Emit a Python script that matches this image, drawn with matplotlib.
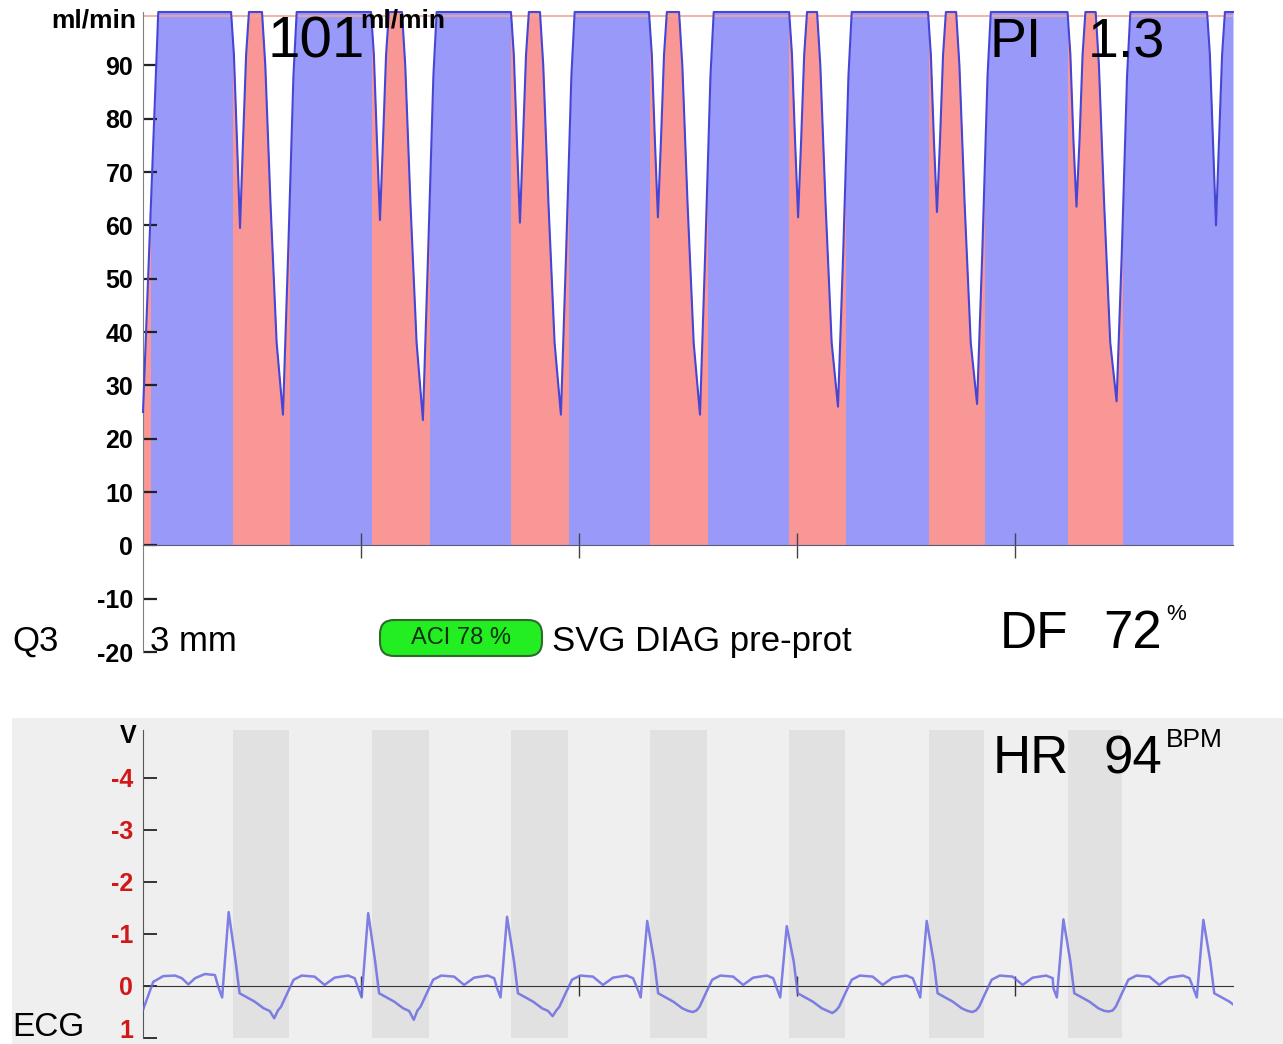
import matplotlib
matplotlib.use("Agg")
import matplotlib.pyplot as plt
from matplotlib.patches import Rectangle, FancyBboxPatch
from matplotlib.transforms import ScaledTranslation

plt.rcParams['font.family'] = ['Liberation Sans', 'DejaVu Sans']
plt.rcParams['axes.unicode_minus'] = False

# ---------------- data ----------------
# graft flow in ml/min, time in s; 100 = clipped at the top of the scale
flow_start_t = [0.000, 0.070]
flow_start_v = [25, 100]
# early systolic dip: times of the minimum and its value
dip1_t = [0.445, 1.087, 1.729, 2.362, 3.005, 3.642, 4.282, 4.922]
dip1_min = [59.5, 61.0, 60.5, 61.5, 61.5, 62.5, 63.5, 60.0]
# late systolic dip (deep one)
dip2_t = [0.642, 1.284, 1.917, 2.555, 3.188, 3.826, 4.466]
dip2_min = [24.5, 23.5, 24.5, 24.5, 26.0, 26.5, 27.0]
# dip outlines, offsets from the minimum (s) and flow there
dip1_off = [-0.041, -0.028, -0.014, 0.0, 0.014, 0.028, 0.041]
dip1_shape = [100, 92, 76, 'min', 76, 92, 100]
dip2_off = [-0.096, -0.081, -0.057, -0.029, 0.0, 0.024, 0.048, 0.063]
dip2_shape = [100, 90, 64, 38, 'min', 55, 88, 100]
flow_end_t = 5.0
mean_line = 99.2

# systolic windows (s)
systole = [(0.000, 0.030), (0.413, 0.670), (1.050, 1.312), (1.688, 1.950),
           (2.326, 2.587), (2.963, 3.220), (3.606, 3.858), (4.243, 4.491)]

# ECG (V, axis drawn inverted)
ecg_lead_t = [0.000, 0.047, 0.093, 0.147, 0.178, 0.208, 0.239, 0.284, 0.330]
ecg_lead_v = [0.46, -0.08, -0.19, -0.20, -0.15, -0.03, -0.15, -0.23, -0.21]
r_times = [0.393, 1.033, 1.670, 2.313, 2.953, 3.595, 4.222, 4.864]
r_amp = [-1.42, -1.40, -1.33, -1.25, -1.15, -1.25, -1.28, -1.27]
t_amp = [0.62, 0.65, 0.58, 0.50, 0.52, 0.50, 0.49, 0.49]
beat_offsets = [-0.046, -0.030, 0.000, 0.032, 0.050, 0.119, 0.161, 0.188, 0.209,
                0.226, 0.240, 0.272, 0.298, 0.335, 0.394, 0.440, 0.486, 0.548, 0.578]
beat_shape = [0.04, 0.22, 'R', -0.47, 0.14, 0.30, 0.43, 0.48, 'T',
              0.47, 0.40, 0.11, -0.12, -0.20, -0.18, -0.02, -0.16, -0.20, -0.15]


def place(points_t, points_v, centre, offsets, shape, low):
    for off, val in zip(offsets, shape):
        points_t.append(centre + off)
        points_v.append(low if val == 'min' else val)


flow_t = list(flow_start_t)
flow_v = list(flow_start_v)
for i, tm in enumerate(dip1_t):
    place(flow_t, flow_v, tm, dip1_off, dip1_shape, dip1_min[i])
    if i < len(dip2_t):
        place(flow_t, flow_v, dip2_t[i], dip2_off, dip2_shape, dip2_min[i])
flow_t.append(flow_end_t)
flow_v.append(100)

ecg_t = list(ecg_lead_t)
ecg_v = list(ecg_lead_v)
for r, ra, ta in zip(r_times, r_amp, t_amp):
    for off, val in zip(beat_offsets, beat_shape):
        if val == 'R':
            val = ra
        elif val == 'T':
            val = ta
        ecg_t.append(r + off)
        ecg_v.append(val)

BLUE = '#9999fa'
RED = '#f99696'
LINE = '#4646d6'

# ---------------- figure ----------------
W, H = 1283, 1044
fig = plt.figure(figsize=(W / 100, H / 100), dpi=100)


def fx(px):
    return px / W


def fy(py):
    return 1 - py / H


def label(px, py, s, size, ha='left', va='baseline', **kw):
    fig.text(fx(px), fy(py), s, fontsize=size, ha=ha, va=va, **kw)


# --- flow panel ---
ax1 = fig.add_axes([fx(143), fy(652), fx(1233) - fx(143), fy(12) - fy(652)])
ax1.set_facecolor('none')
ax1.set_xlim(0, 5)
ax1.set_ylim(-20, 100)

ax1.fill_between(flow_t, 0, flow_v, color=BLUE, lw=0, zorder=1)
for a, b in systole:
    f = ax1.fill_between(flow_t, 0, flow_v, color=RED, lw=0, zorder=1.1)
    f.set_clip_path(Rectangle((a, -20), b - a, 120, transform=ax1.transData))
ax1.axhline(mean_line, color='#eda896', lw=1.2, zorder=2)
ax1.plot(flow_t, flow_v, color=LINE, lw=1.5, zorder=3, clip_on=False,
         solid_joinstyle='round')

for s in ['top', 'right']:
    ax1.spines[s].set_visible(False)
ax1.spines['bottom'].set_position(('data', 0))
ax1.spines['bottom'].set_color('#5a5a7a')
ax1.spines['left'].set_color('#808080')
ax1.set_xticks([1, 2, 3, 4])
ax1.set_xticklabels([])
ax1.tick_params(axis='x', direction='inout', length=18, width=1, color='#444444')
ax1.set_yticks(range(-20, 100, 10))
ax1.tick_params(axis='y', direction='in', length=10, width=1.6, pad=7,
                labelsize=18, color='#222222')
for lab in ax1.get_yticklabels():
    lab.set_fontweight('bold')

# --- ECG panel ---
fig.add_artist(Rectangle((fx(12), 0), 1 - fx(12), fy(718), transform=fig.transFigure,
                         facecolor='#efefef', edgecolor='none', zorder=-1))
ax2 = fig.add_axes([fx(143), fy(1038), fx(1233) - fx(143), fy(730) - fy(1038)])
ax2.set_facecolor('none')
ax2.set_xlim(0, 5)
ax2.set_ylim(1.0, -4.92)
for a, b in systole[1:]:
    ax2.axvspan(a, b, color='#e1e1e1', lw=0, zorder=0)
ax2.plot(ecg_t, ecg_v, color='#6a6ae2', lw=1.8, alpha=0.85, zorder=3,
         solid_joinstyle='round')

for s in ['top', 'right']:
    ax2.spines[s].set_visible(False)
ax2.spines['bottom'].set_position(('data', 0))
ax2.spines['bottom'].set_color('#333333')
ax2.spines['left'].set_color('#555555')
ax2.set_xticks([1, 2, 3, 4])
ax2.set_xticklabels([])
ax2.tick_params(axis='x', direction='inout', length=14, width=1, color='#333333')
ax2.set_yticks([-4, -3, -2, -1, 0, 1])
ax2.tick_params(axis='y', direction='in', length=10, width=1.4, pad=7,
                labelsize=18, labelcolor='#d01818', color='#333333')
for lab in ax2.get_yticklabels():
    lab.set_fontweight('bold')
# lift the bottom label so it stays inside the picture
last = ax2.get_yticklabels()[-1]
last.set_transform(last.get_transform() + ScaledTranslation(0, 9 / 100, fig.dpi_scale_trans))

# --- texts ---
label(136, 27, 'ml/min', 19, ha='right', fontweight='bold')
label(268, 58, '101', 42)
label(360, 27, 'ml/min', 19, fontweight='bold')
label(990, 57, 'PI', 40)
label(1088, 57, '1.3', 40)

label(12, 651, 'Q3', 25)
label(150, 651, '3 mm', 25)
box = FancyBboxPatch((3.80, (H - 656) / 100), 1.62, 0.36,
                     boxstyle='round,pad=0,rounding_size=0.14',
                     transform=fig.dpi_scale_trans, facecolor='#22ee22',
                     edgecolor='#2d6b2d', lw=1.5)
fig.add_artist(box)
label(461, 638, 'ACI 78 %', 17, ha='center', va='center', color='#103010')
label(552, 651, 'SVG DIAG pre-prot', 25)
label(1000, 648, 'DF', 37)
label(1103, 648, '72', 38)
label(1166, 620, '%', 16)

label(136, 736, 'V', 18, ha='right', va='center', fontweight='bold')
label(993, 773, 'HR', 38)
label(1103, 773, '94', 38)
label(1166, 747, 'BPM', 19)
label(12, 1036, 'ECG', 24)

fig.savefig('out.png', dpi=100)
